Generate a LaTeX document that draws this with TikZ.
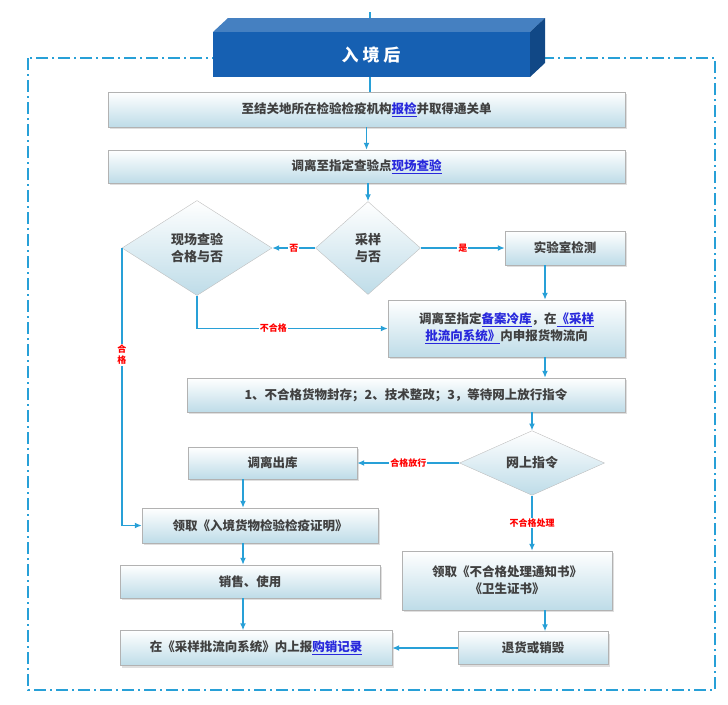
\documentclass[tikz,border=0pt]{standalone}
\usepackage{fontspec}
\setmainfont{Noto Sans CJK SC}
\usepackage{xcolor}
\usetikzlibrary{shapes.geometric,shadows,arrows.meta}
\definecolor{linec}{RGB}{40,160,215}
\definecolor{headc}{RGB}{22,96,178}
\definecolor{linkc}{RGB}{40,40,220}
\definecolor{boxc}{RGB}{190,220,232}
\newcommand{\lnk}[1]{\textcolor{linkc}{\underline{#1}}}
\tikzset{
  box/.style={draw=gray!60, top color=white, bottom color=boxc,
    drop shadow={shadow xshift=2pt, shadow yshift=-2pt, fill=gray!50},
    inner sep=0pt, align=center, font=\fontsize{12.5}{17}\selectfont\bfseries, text=black!75},
  dia/.style={diamond, draw=gray!50, top color=white, bottom color=boxc,
    inner sep=0pt, align=center, font=\fontsize{13}{17}\selectfont\bfseries, text=black!75},
  lab/.style={text=red, font=\fontsize{9}{11}\selectfont\bfseries, fill=white, inner sep=1pt},
  flow/.style={draw=linec, line width=1.6pt, -{Latex[length=7pt,width=6pt]}}
}
\begin{document}
\begin{tikzpicture}[x=1pt,y=-1pt]
\useasboundingbox (0,0) rectangle (728,704);
% frame
\draw[linec, line width=1.5pt, dash pattern=on 12pt off 4pt on 2pt off 4pt] (28,58) rectangle (715,690);
\draw[linec, line width=1.6pt] (370,12) -- (370,92);
% header
\fill[headc!80!white] (213,32) -- (228,18) -- (545,18) -- (530,32) -- cycle;
\fill[headc!75!black] (530,32) -- (545,18) -- (545,63) -- (530,77) -- cycle;
\fill[headc] (213,32) rectangle (530,77);
\node[text=white, font=\fontsize{17}{20}\selectfont\bfseries] (head) at (371,55) {入\ 境\ 后};

\node[box, minimum width=517pt, minimum height=35pt] (report1) at (366.5,109.5) {至结关地所在检验检疫机构\lnk{报检}并取得通关单};
\node[box, minimum width=517pt, minimum height=33pt] (spot) at (366.5,166.5) {调离至指定查验点\lnk{现场查验}};
\node[dia, minimum width=150pt, minimum height=95pt] (pass) at (197,248) {现场查验\\合格与否};
\node[dia, minimum width=105pt, minimum height=93pt] (sample) at (368,248) {采样\\与否};
\node[box, minimum width=120pt, minimum height=34pt] (labtest) at (565,248) {实验室检测};
\node[box, minimum width=237pt, minimum height=57pt] (cold) at (506.5,328.5) {调离至指定\lnk{备案冷库}，在\lnk{《采样}\\\lnk{批流向系统》}内申报货物流向};
\node[box, minimum width=438pt, minimum height=34pt] (seal) at (406,395) {1、不合格货物封存；2、技术整改；3，等待网上放行指令};
\node[dia, minimum width=145pt, minimum height=55pt] (order) at (532,463) {网上指令};
\node[box, minimum width=169pt, minimum height=32pt] (release) at (272.5,463) {调离出库};
\node[box, minimum width=236pt, minimum height=35pt] (cert) at (260,525.5) {领取《入境货物检验检疫证明》};
\node[box, minimum width=260pt, minimum height=33pt] (sale) at (250,581.5) {销售、使用};
\node[box, minimum width=210pt, minimum height=59pt] (notice) at (507,580.5) {领取《不合格处理通知书》\\《卫生证书》};
\node[box, minimum width=272pt, minimum height=35pt] (record) at (256,648) {在《采样批流向系统》内上报\lnk{购销记录}};
\node[box, minimum width=150pt, minimum height=33pt] (back) at (533,648) {退货或销毁};

\draw[flow] (report1) -- (spot);
\draw[flow] (spot.south -| sample.north) -- (sample.north);
\draw[flow] (sample.west) -- node[lab] {否} (pass.east);
\draw[flow] (sample.east) -- node[lab] {是} (labtest.west);
\draw[flow] (labtest.south -| 545,0) -- (cold.north -| 545,0);
\draw[flow] (pass.south) -- (pass.south |- cold.west) -- node[lab, pos=0.4] {不合格} (cold.west);
\draw[flow] (cold.south -| 545,0) -- (seal.north -| 545,0);
\draw[flow] (seal.south -| order.north) -- (order.north);
\draw[flow] (order.west) -- node[lab] {合格放行} (release.east);
\draw[flow] (order.south) -- node[lab] {不合格处理} (order.south |- notice.north);
\draw[flow] (release.south -| 243,0) -- (cert.north -| 243,0);
\draw[flow] (cert.south -| 243,0) -- (sale.north -| 243,0);
\draw[flow] (sale.south -| 243,0) -- (record.north -| 243,0);
\draw[flow] (notice.south -| 545,0) -- (back.north -| 545,0);
\draw[flow] (back.west) -- (record.east);
\draw[flow] (pass.west) -- (pass.west |- cert.west) -- (cert.west);
\node[lab, align=center] (ok) at (pass.west |- 0,355) {合\\格};
\end{tikzpicture}
\end{document}
